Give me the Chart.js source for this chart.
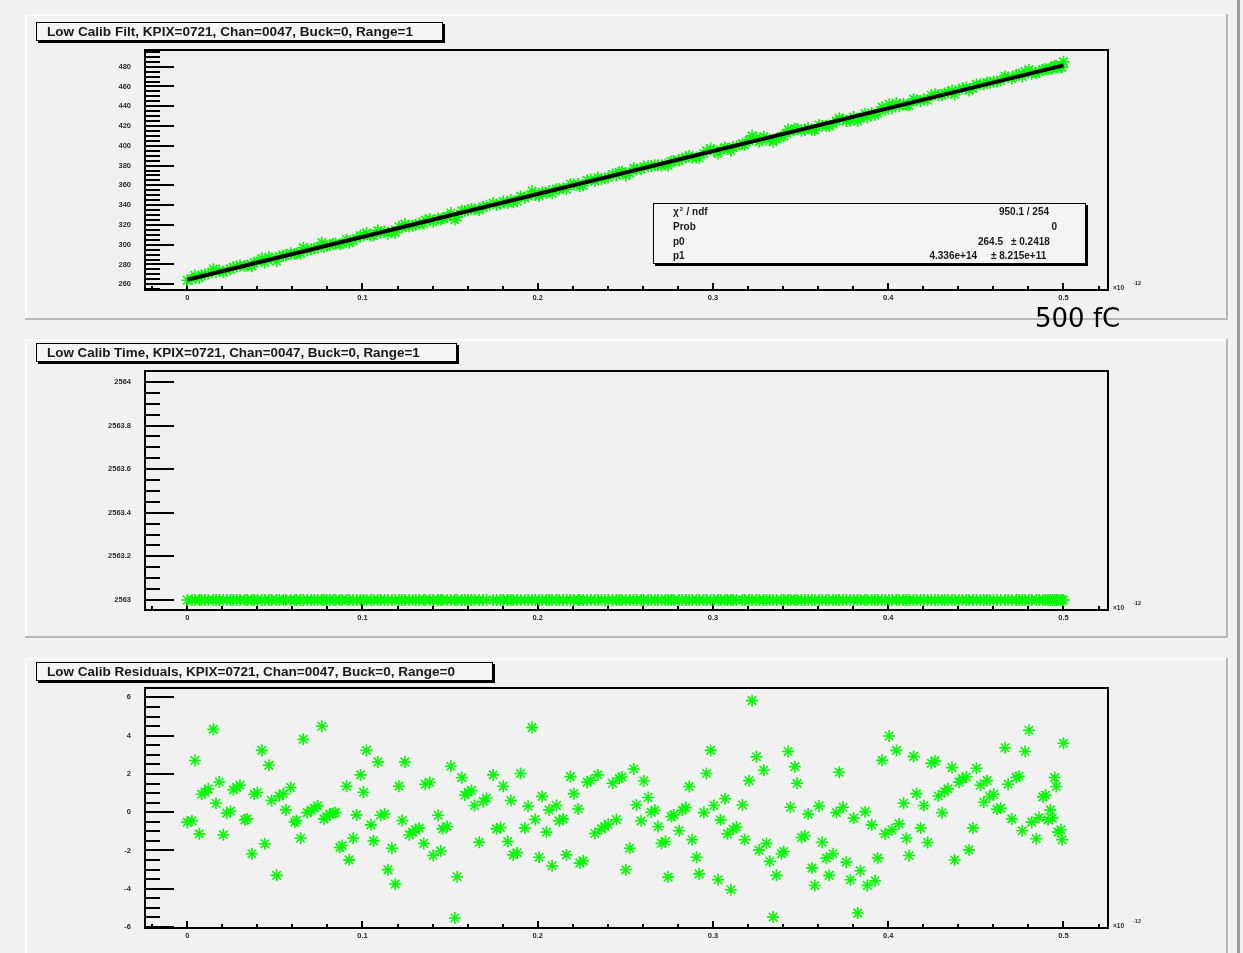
<!DOCTYPE html>
<html>
<head>
<meta charset="utf-8">
<title>Low Calib KPIX=0721 Chan=0047</title>
<script src="https://cdn.jsdelivr.net/npm/chart.js@4.4.1/dist/chart.umd.min.js"></script>
<style>
  html, body { margin: 0; padding: 0; background: #f1f1f1; }
  #wrap { position: relative; width: 1243px; height: 953px; overflow: hidden; background: #f1f1f1; }
  #wrap canvas { position: absolute; left: 0; }
  #topbar { position: absolute; left: 0; top: 0; width: 1243px; height: 10px; background: #ffffff; }
  #topbar .strip { position: absolute; left: 0; top: 3px; width: 1243px; height: 6px; background: #e4e4e4; }
  #topbar .mark { position: absolute; top: 3px; width: 2px; height: 6px; background: #555; }
  #edgeR { position: absolute; left: 1237px; top: 0; width: 3px; height: 953px; background: #9a9a9a; }
  #note { position: absolute; left: 1035px; top: 305px; font: 26px/26px 'Comic Sans MS', 'DejaVu Sans', sans-serif; color: #000; white-space: nowrap; z-index: 5; }
</style>
</head>
<body>
<div id="wrap">
  <div id="topbar"><div class="strip"></div>
    <div class="mark" style="left:207px"></div><div class="mark" style="left:389px"></div>
    <div class="mark" style="left:584px"></div><div class="mark" style="left:770px"></div>
  </div>
  <canvas id="padFilt" width="1243" height="330" style="top:0px"></canvas>
  <canvas id="padTime" width="1243" height="318" style="top:330px"></canvas>
  <canvas id="padResid" width="1243" height="305" style="top:648px"></canvas>
  <div id="edgeR"></div>
  <div id="note">500 fC</div>
</div>
<script>
// Injected calibration charge, in units of 1e-12 C
const charge = [
  0.0000,0.0027,0.0044,0.0069,0.0082,0.0101,0.0120,0.0149,0.0164,0.0183,
  0.0206,0.0225,0.0247,0.0263,0.0282,0.0301,0.0329,0.0342,0.0369,0.0382,
  0.0400,0.0426,0.0443,0.0466,0.0481,0.0510,0.0525,0.0548,0.0563,0.0590,
  0.0614,0.0624,0.0647,0.0662,0.0685,0.0709,0.0725,0.0744,0.0768,0.0780,
  0.0795,0.0814,0.0833,0.0846,0.0871,0.0884,0.0909,0.0924,0.0947,0.0966,
  0.0989,0.1006,0.1023,0.1048,0.1063,0.1088,0.1103,0.1126,0.1145,0.1168,
  0.1187,0.1208,0.1227,0.1242,0.1267,0.1286,0.1303,0.1324,0.1350,0.1358,
  0.1384,0.1403,0.1432,0.1447,0.1457,0.1483,0.1504,0.1527,0.1540,0.1567,
  0.1584,0.1603,0.1622,0.1639,0.1666,0.1689,0.1708,
  0.1746,0.1765,0.1788,0.1803,0.1829,0.1847,0.1860,0.1883,0.1902,0.1926,
  0.1945,0.1968,0.1985,0.2008,0.2025,0.2050,0.2065,0.2082,0.2107,0.2122,
  0.2145,0.2164,0.2187,0.2206,0.2231,0.2240,0.2259,0.2282,0.2303,0.2326,
  0.2343,0.2364,0.2383,0.2402,0.2427,0.2449,0.2465,0.2480,0.2503,0.2525,
  0.2548,0.2563,0.2590,0.2605,0.2630,0.2647,0.2668,0.2687,0.2706,0.2729,
  0.2744,0.2763,0.2776,0.2807,0.2824,0.2845,0.2864,0.2881,0.2906,0.2921,
  0.2948,0.2963,0.2987,0.3005,0.3029,0.3043,0.3069,0.3083,0.3102,0.3115,
  0.3134,0.3168,0.3181,0.3206,0.3223,0.3248,0.3263,0.3290,0.3305,0.3324,
  0.3343,0.3362,0.3391,0.3404,0.3429,0.3442,0.3467,0.3480,
  0.3505,0.3524,0.3543,0.3565,0.3581,0.3605,0.3623,0.3647,0.3663,0.3685,
  0.3704,0.3720,0.3742,0.3761,0.3784,0.3803,0.3826,0.3841,0.3868,0.3881,
  0.3906,0.3925,0.3940,0.3965,0.3982,0.4005,0.4022,0.4047,0.4062,0.4088,
  0.4104,0.4119,0.4145,0.4161,0.4185,0.4203,0.4225,0.4246,0.4267,0.4286,
  0.4307,0.4322,0.4341,0.4364,0.4379,0.4404,0.4423,0.4446,0.4461,0.4484,
  0.4503,0.4526,0.4545,0.4564,0.4579,0.4602,0.4621,0.4642,0.4667,0.4684,
  0.4705,0.4731,0.4746,0.4765,0.4781,0.4803,0.4819,0.4845,0.4860,0.4883,
  0.4898,0.4912,0.4925,0.4937,0.4950,0.4959,0.4969,0.4985,0.4992,0.5000
];

// Filtered ADC value per charge step
const filtAdc = [
  264.0,265.2,269.1,266.4,269.0,269.9,270.9,275.3,272.1,274.0,
  272.3,274.2,275.3,277.1,278.0,279.0,278.4,279.0,278.3,282.0,
  282.9,286.2,282.1,287.2,286.0,283.3,288.1,289.2,289.0,291.4,
  290.6,291.1,291.2,297.0,294.2,295.3,296.2,297.1,302.3,298.0,
  298.7,299.7,300.6,301.2,300.4,301.1,305.3,302.1,304.2,306.3,
  309.3,309.2,312.1,309.3,309.1,314.3,312.2,313.2,311.1,313.3,
  312.2,318.2,317.3,321.0,318.3,319.2,320.1,321.1,321.4,324.8,
  326.1,323.1,326.4,325.2,326.8,328.1,332.1,325.2,327.9,334.3,
  334.1,335.1,336.0,335.9,335.2,338.3,339.3,
  342.2,340.2,341.2,344.0,342.3,345.2,342.9,344.0,349.0,347.2,
  349.2,354.3,350.2,349.2,353.1,352.4,354.2,352.0,356.2,356.1,
  357.2,356.1,361.2,361.1,361.4,359.0,359.9,365.0,366.0,364.3,
  368.0,366.1,367.1,368.0,371.2,370.3,373.2,373.9,370.0,372.1,
  377.2,376.0,376.4,379.1,379.3,379.3,380.3,380.3,380.2,381.3,
  380.1,384.1,384.7,385.2,387.1,388.1,390.0,388.0,388.2,387.9,
  392.3,395.0,397.3,395.2,392.3,396.0,398.3,397.1,395.0,398.7,
  399.6,402.2,401.0,405.2,410.1,408.2,404.0,409.3,406.2,406.1,
  404.0,407.0,409.4,410.1,416.4,414.0,417.2,416.9,
  415.2,416.1,418.0,416.2,415.9,421.1,420.0,420.2,420.0,422.1,
  425.1,427.9,427.0,425.0,425.0,429.1,425.1,428.0,432.3,429.0,
  433.2,431.1,432.9,439.1,436.0,442.1,438.0,443.2,440.0,442.2,
  441.1,440.8,447.2,445.9,445.1,447.1,446.1,451.2,452.2,451.2,
  451.2,453.0,454.0,456.1,451.9,457.0,458.1,459.1,456.0,458.1,
  462.1,462.2,462.1,464.1,463.9,465.0,465.0,466.0,470.2,469.1,
  468.2,471.5,472.2,470.1,475.0,477.0,472.9,473.2,475.0,477.0,
  477.8,477.1,478.2,478.3,480.9,480.9,478.9,479.7,479.5,484.9
];

// Time value per charge step
const calibTime = [
  2563,2563,2563,2563,2563,2563,2563,2563,2563,2563,2563,2563,2563,2563,2563,
  2563,2563,2563,2563,2563,2563,2563,2563,2563,2563,2563,2563,2563,2563,2563,
  2563,2563,2563,2563,2563,2563,2563,2563,2563,2563,2563,2563,2563,2563,2563,
  2563,2563,2563,2563,2563,2563,2563,2563,2563,2563,2563,2563,2563,2563,2563,
  2563,2563,2563,2563,2563,2563,2563,2563,2563,2563,2563,2563,2563,2563,2563,
  2563,2563,2563,2563,2563,2563,2563,2563,2563,2563,2563,2563,2563,2563,2563,
  2563,2563,2563,2563,2563,2563,2563,2563,2563,2563,2563,2563,2563,2563,2563,
  2563,2563,2563,2563,2563,2563,2563,2563,2563,2563,2563,2563,2563,2563,2563,
  2563,2563,2563,2563,2563,2563,2563,2563,2563,2563,2563,2563,2563,2563,2563,
  2563,2563,2563,2563,2563,2563,2563,2563,2563,2563,2563,2563,2563,2563,2563,
  2563,2563,2563,2563,2563,2563,2563,2563,2563,2563,2563,2563,2563,2563,2563,
  2563,2563,2563,2563,2563,2563,2563,2563,2563,2563,2563,2563,2563,2563,2563,
  2563,2563,2563,2563,2563,2563,2563,2563,2563,2563,2563,2563,2563,2563,2563,
  2563,2563,2563,2563,2563,2563,2563,2563,2563,2563,2563,2563,2563,2563,2563,
  2563,2563,2563,2563,2563,2563,2563,2563,2563,2563,2563,2563,2563,2563,2563,
  2563,2563,2563,2563,2563,2563,2563,2563,2563,2563,2563,2563,2563,2563,2563,
  2563,2563,2563,2563,2563,2563,2563,2563,2563,2563,2563,2563,2563,2563,2563
];

// Fit residuals (data - fit), ADC counts
const residual = [
  -0.52,-0.45,2.70,-1.13,0.94,1.04,1.22,4.33,0.47,1.58,
  -1.18,-0.05,0.05,1.17,1.29,1.41,-0.40,-0.35,-2.17,0.94,
  1.03,3.23,-1.65,2.45,0.61,-3.30,0.85,0.96,0.12,1.29,
  -0.52,-0.43,-1.36,3.81,-0.02,0.10,0.21,0.33,4.49,-0.35,
  -0.23,-0.10,-0.05,-0.02,-1.84,-1.74,1.36,-2.49,-1.36,-0.14,
  1.95,1.04,3.23,-0.66,-1.50,2.63,-0.16,-0.10,-3.01,-1.88,
  -3.76,1.36,-0.43,2.63,-1.18,-1.04,-0.92,-0.83,-1.63,1.46,
  1.55,-2.26,-0.16,-2.03,-0.87,-0.75,2.40,-5.53,-3.37,1.81,
  0.90,1.04,1.13,0.35,-1.57,0.56,0.73,
  1.95,-0.87,-0.80,1.36,-1.53,0.61,-2.23,-2.12,2.02,-0.83,
  0.31,4.42,-0.38,-2.35,0.83,-1.04,0.12,-2.80,0.35,-0.45,
  -0.35,-2.23,1.86,0.97,0.17,-2.66,-2.54,1.57,1.67,-1.11,
  1.95,-0.87,-0.75,-0.63,1.51,-0.38,1.77,1.84,-3.01,-1.88,
  2.26,0.38,-0.45,1.63,0.77,0.00,0.10,-0.75,-1.62,-1.53,
  -3.39,-0.23,-0.14,-0.97,0.10,0.24,1.34,-1.44,-2.35,-3.22,
  -0.02,2.02,3.23,0.35,-3.53,-0.40,0.70,-1.13,-4.05,-0.89,
  -0.77,0.38,-1.44,1.65,5.83,2.90,-1.98,2.19,-1.63,-2.56,
  -5.48,-3.30,-2.17,-2.05,3.17,0.26,2.38,1.51,
  -1.32,-1.23,-0.10,-2.92,-3.83,0.33,-1.57,-2.40,-3.30,-2.17,
  -0.02,2.09,0.26,-2.61,-3.53,-0.31,-5.27,-3.06,0.03,-3.83,
  -0.66,-3.58,-2.40,2.71,-1.13,3.98,-0.92,3.23,-0.61,0.47,
  -1.36,-2.26,2.92,0.97,-0.83,0.35,-1.58,2.56,2.68,0.85,
  -0.03,1.08,1.22,2.33,-2.50,1.57,1.77,1.84,-1.97,-0.83,
  2.30,1.41,0.52,1.65,0.82,0.94,0.16,0.21,3.37,1.46,
  -0.35,1.81,1.88,-0.97,3.17,4.28,-0.52,-1.39,-0.28,0.80,
  0.90,-0.40,0.12,-0.31,1.81,1.34,-1.04,-0.92,-1.44,3.60
];

// Linear fit result (ADC = p0 + p1 * Q, Q in coulomb)
const fitP0 = 264.5;
const fitP1 = 4.336e14;
const chargeUnit = 1e-12;

// Axis tick labels
const xTickLabels = ['0', '0.1', '0.2', '0.3', '0.4', '0.5'];
const filtTickLabels = ['260', '280', '300', '320', '340', '360', '380', '400', '420', '440', '460', '480'];
const timeTickLabels = ['2563', '2563.2', '2563.4', '2563.6', '2563.8', '2564'];
const residTickLabels = ['-6', '-4', '-2', '0', '2', '4', '6'];

// Fit statistics box rows
const statsNames = ['χ', 'Prob', 'p0', 'p1'];
const statsValues = ['950.1 / 254', '0', '264.5', '4.336e+14'];
const statsErrors = ['', '', '± 0.2418', '± 8.215e+11'];

const titles = [
  'Low Calib Filt, KPIX=0721, Chan=0047, Buck=0, Range=1',
  'Low Calib Time, KPIX=0721, Chan=0047, Buck=0, Range=1',
  'Low Calib Residuals, KPIX=0721, Chan=0047, Buck=0, Range=0'
];

const FONT = '"Liberation Sans", Arial, Helvetica, sans-serif';
const GREEN = '#00ff00';

function points(ys) {
  return charge.map((q, i) => ({ x: q, y: ys[i] }));
}

function fitFont(ctx, text, width, weight) {
  ctx.font = weight + ' 20px ' + FONT;
  const w = ctx.measureText(text).width;
  const size = 20 * width / w;
  ctx.font = weight + ' ' + size.toFixed(2) + 'px ' + FONT;
  return size;
}

function shadowBox(ctx, x, y, w, h) {
  ctx.fillStyle = '#000';
  ctx.fillRect(x + 2, y + 2, w, h);
  ctx.fillStyle = '#f4f4f4';
  ctx.fillRect(x, y, w, h);
  ctx.strokeStyle = '#000';
  ctx.lineWidth = 1;
  ctx.strokeRect(x + 0.5, y + 0.5, w - 1, h - 1);
}

// ROOT-style pad: bevelled panel, framed axes with inward ticks, title box
const rootPad = {
  id: 'rootPad',
  beforeDraw(chart, args, o) {
    const ctx = chart.ctx, p = o.pad;
    ctx.save();
    ctx.fillStyle = '#f1f1f1';
    ctx.fillRect(0, 0, chart.width, chart.height);
    ctx.fillStyle = '#fafafa';
    ctx.fillRect(p.x, p.y, p.w, 2);
    ctx.fillRect(p.x, p.y, 2, p.h);
    ctx.fillStyle = '#b8b8b8';
    ctx.fillRect(p.x, p.y + p.h - 2, p.w, 2);
    ctx.fillRect(p.x + p.w - 2, p.y, 2, p.h);
    ctx.restore();
  },
  beforeDatasetsDraw(chart, args, o) {
    const ctx = chart.ctx, a = chart.chartArea;
    const xs = chart.scales.x, ys = chart.scales.y;
    ctx.save();
    ctx.strokeStyle = '#000';
    ctx.lineWidth = 2;
    ctx.strokeRect(a.left, a.top, a.right - a.left, a.bottom - a.top);

    // y axis ticks, drawn inward from the left edge
    const ax = o.yAxis;
    ctx.lineWidth = 2;
    ctx.beginPath();
    const kLo = Math.ceil((ys.min - ax.origin) / ax.minor - 1e-6);
    const kHi = Math.floor((ys.max - ax.origin) / ax.minor + 1e-6);
    for (let k = kLo; k <= kHi; k++) {
      const v = ax.origin + k * ax.minor;
      const y = Math.round(ys.getPixelForValue(v));
      const major = ((k % ax.per) + ax.per) % ax.per === 0;
      ctx.moveTo(a.left, y);
      ctx.lineTo(a.left + (major ? 29 : 15), y);
    }
    ctx.stroke();

    ctx.fillStyle = '#2a2a2a';
    ctx.font = 'bold 7.5px ' + FONT;
    ctx.textAlign = 'right';
    ctx.textBaseline = 'middle';
    ax.labels.forEach(t => {
      const y = ys.getPixelForValue(parseFloat(t));
      ctx.fillText(t, a.left - 14, y);
    });

    // x axis ticks, drawn upward from the bottom edge
    ctx.beginPath();
    for (let k = -1; k <= 26; k++) {
      const v = k * 0.02;
      if (v < xs.min || v > xs.max) continue;
      const x = Math.round(xs.getPixelForValue(v));
      const major = k % 5 === 0;
      ctx.moveTo(x, a.bottom);
      ctx.lineTo(x, a.bottom - (major ? 7 : 4));
    }
    ctx.stroke();
    ctx.textAlign = 'center';
    ctx.textBaseline = 'middle';
    xTickLabels.forEach(t => {
      ctx.fillText(t, xs.getPixelForValue(parseFloat(t)), a.bottom + 8);
    });
    // exponent of the charge axis
    ctx.textAlign = 'left';
    ctx.font = 'bold 6.5px ' + FONT;
    ctx.fillText('\u00d710', a.right + 5, a.bottom - 2);
    ctx.font = 'bold 5.5px ' + FONT;
    ctx.fillText('-12', a.right + 25, a.bottom - 7);
    ctx.restore();
  },
  afterDraw(chart, args, o) {
    const ctx = chart.ctx;
    ctx.save();
    const t = o.title;
    shadowBox(ctx, t.x, t.y, t.w, t.h);
    ctx.fillStyle = '#1a1a1a';
    fitFont(ctx, t.text, t.textW, 'bold');
    ctx.textAlign = 'left';
    ctx.textBaseline = 'middle';
    ctx.fillText(t.text, t.x + 11, t.y + t.h / 2 + 0.5);

    if (o.stats) {
      const s = o.stats;
      const sf = 'bold 10px ' + FONT;
      shadowBox(ctx, s.x, s.y, s.w, s.h);
      ctx.fillStyle = '#1a1a1a';
      ctx.textBaseline = 'middle';
      s.rows.forEach((ry, i) => {
        ctx.textAlign = 'left';
        const nx = s.x + 20;
        ctx.font = sf;
        if (i === 0) {
          ctx.fillText(statsNames[0], nx, ry);
          const cw = ctx.measureText(statsNames[0]).width;
          ctx.font = 'bold 6px ' + FONT;
          ctx.fillText('2', nx + cw + 1, ry - 3);
          ctx.font = sf;
          ctx.fillText(' / ndf', nx + cw + 5, ry);
        } else {
          ctx.fillText(statsNames[i], nx, ry);
        }
        ctx.textAlign = 'right';
        ctx.fillText(statsValues[i], s.valRight[i], ry);
        if (statsErrors[i]) {
          ctx.textAlign = 'left';
          ctx.fillText(statsErrors[i], s.errLeft[i], ry);
        }
      });
    }
    ctx.restore();
  }
};

function padChart(id, top, height, frame, datasets, yMin, yMax, pluginOpts) {
  return new Chart(document.getElementById(id), {
    type: 'scatter',
    data: { datasets },
    options: {
      responsive: false,
      devicePixelRatio: 1,
      animation: false,
      events: [],
      layout: {
        autoPadding: false,
        padding: { left: frame.l, right: 1243 - frame.r, top: frame.t - top, bottom: top + height - frame.b }
      },
      scales: {
        x: { type: 'linear', display: false, min: -0.0241, max: 0.5254 },
        y: { type: 'linear', display: false, min: yMin, max: yMax }
      },
      plugins: { legend: { display: false }, tooltip: { enabled: false }, rootPad: pluginOpts }
    },
    plugins: [rootPad]
  });
}

const starStyle = {
  pointStyle: 'star', pointRadius: 6, pointBorderWidth: 1.6,
  pointBorderColor: GREEN, pointBackgroundColor: GREEN, borderColor: GREEN, showLine: false
};

const last = charge.length - 1;
const fitLine = [
  { x: charge[0], y: fitP0 + fitP1 * chargeUnit * charge[0] },
  { x: charge[last], y: fitP0 + fitP1 * chargeUnit * charge[last] }
];

// Pad 1: filtered ADC vs charge with linear fit
padChart('padFilt', 0, 330, { l: 145, r: 1108, t: 50, b: 290 },
  [
    { label: 'fit', data: fitLine, showLine: true, borderColor: '#000', borderWidth: 4, pointRadius: 0, order: 0 },
    Object.assign({ label: 'Low Calib Filt', data: points(filtAdc), order: 1 }, starStyle)
  ],
  254.2, 496.9,
  {
    pad: { x: 25, y: 14, w: 1203, h: 306 },
    yAxis: { origin: 260, minor: 5, per: 4, labels: filtTickLabels },
    title: { x: 36, y: 22, w: 407, h: 19, text: titles[0], textW: 366 },
    stats: {
      x: 653, y: 203, w: 433, h: 61,
      rows: [212.5, 227.5, 242, 256.5],
      valRight: [1049, 1057, 1003, 977],
      errLeft: [0, 0, 1011, 991]
    }
  });

// Pad 2: time vs charge
padChart('padTime', 330, 318, { l: 145, r: 1108, t: 371, b: 610 },
  [Object.assign({ label: 'Low Calib Time', data: points(calibTime) }, starStyle)],
  2562.954, 2564.05,
  {
    pad: { x: 25, y: 9, w: 1203, h: 299 },
    yAxis: { origin: 2563, minor: 0.05, per: 4, labels: timeTickLabels },
    title: { x: 36, y: 13, w: 421, h: 19, text: titles[1], textW: 373 }
  });

// Pad 3: fit residuals vs charge
padChart('padResid', 648, 305, { l: 145, r: 1108, t: 688, b: 928 },
  [Object.assign({ label: 'Low Calib Residuals', data: points(residual) }, starStyle)],
  -6.05, 6.49,
  {
    pad: { x: 25, y: 10, w: 1203, h: 310 },
    yAxis: { origin: 0, minor: 0.5, per: 4, labels: residTickLabels },
    title: { x: 36, y: 14, w: 457, h: 19, text: titles[2], textW: 408 }
  });
</script>
</body>
</html>
